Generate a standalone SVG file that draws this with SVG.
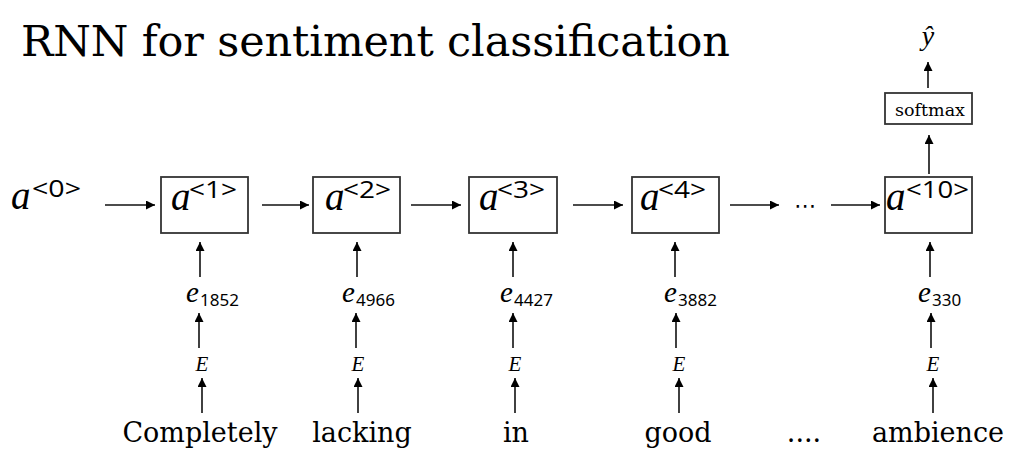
<svg xmlns="http://www.w3.org/2000/svg" width="1017" height="472" viewBox="0 0 1017 472">
<defs>
<marker id="ah" viewBox="0 0 10 10" refX="10" refY="5" markerWidth="10" markerHeight="9" markerUnits="userSpaceOnUse" orient="auto">
<path d="M0,0 L10,5 L0,10 z" fill="#000"/>
</marker>
<style>
.box{fill:#fff;stroke:#333;stroke-width:1.8}
.arr{stroke:#111;stroke-width:1.6;fill:none;marker-end:url(#ah)}
.sup{font-size:23px;fill:#000}
.sub{font-size:17px;fill:#000}
</style>
</defs>
<rect width="1017" height="472" fill="#fff"/>
<text font-family="DejaVu Serif, serif" font-size="43" x="21" y="56" textLength="709">RNN for sentiment classification</text>

<g id="a0">
<text font-family="Liberation Serif, serif" font-style="italic" font-size="39" x="11" y="209">a</text><text class="sup" font-family="Open Sans, sans-serif" x="32" y="197" textLength="49" lengthAdjust="spacingAndGlyphs">&lt;0&gt;</text>
</g>
<g id="box1">
<rect class="box" x="161" y="177" width="87" height="56"/>
<text font-family="Liberation Serif, serif" font-style="italic" font-size="39" x="171" y="210">a</text><text class="sup" font-family="Open Sans, sans-serif" x="189" y="198" textLength="48" lengthAdjust="spacingAndGlyphs">&lt;1&gt;</text>
</g>
<g id="box2">
<rect class="box" x="313" y="177" width="87" height="56"/>
<text font-family="Liberation Serif, serif" font-style="italic" font-size="39" x="325" y="210">a</text><text class="sup" font-family="Open Sans, sans-serif" x="343" y="198" textLength="48" lengthAdjust="spacingAndGlyphs">&lt;2&gt;</text>
</g>
<g id="box3">
<rect class="box" x="469" y="177" width="88" height="56"/>
<text font-family="Liberation Serif, serif" font-style="italic" font-size="39" x="479" y="210">a</text><text class="sup" font-family="Open Sans, sans-serif" x="497" y="198" textLength="48" lengthAdjust="spacingAndGlyphs">&lt;3&gt;</text>
</g>
<g id="box4">
<rect class="box" x="632" y="177" width="87" height="56"/>
<text font-family="Liberation Serif, serif" font-style="italic" font-size="39" x="640" y="210">a</text><text class="sup" font-family="Open Sans, sans-serif" x="658" y="198" textLength="48" lengthAdjust="spacingAndGlyphs">&lt;4&gt;</text>
</g>
<g id="dots">
<text x="805" y="213" text-anchor="middle" font-family="DejaVu Sans, sans-serif" font-size="22">⋯</text>
</g>
<g id="box10">
<rect class="box" x="885" y="177" width="87" height="56"/>
<text font-family="Liberation Serif, serif" font-style="italic" font-size="39" x="886" y="210">a</text><text class="sup" font-family="Open Sans, sans-serif" x="906" y="198" textLength="63" lengthAdjust="spacingAndGlyphs">&lt;10&gt;</text>
</g>
<g id="softmax">
<rect class="box" x="885" y="93" width="87" height="31"/>
<text font-family="DejaVu Serif, serif" font-size="16" x="895" y="116" textLength="70" lengthAdjust="spacingAndGlyphs">softmax</text>
</g>
<g id="yhat">
<text x="928" y="45" text-anchor="middle" font-family="Liberation Serif, serif" font-style="italic" font-size="28">ŷ</text>
</g>

<g id="e1"><text font-family="Liberation Serif, serif" font-style="italic" font-size="29" x="186" y="302">e</text><text class="sub" font-family="Noto Sans, sans-serif" x="200" y="306">1852</text></g>
<g id="e2"><text font-family="Liberation Serif, serif" font-style="italic" font-size="29" x="342" y="302">e</text><text class="sub" font-family="Noto Sans, sans-serif" x="356" y="306">4966</text></g>
<g id="e3"><text font-family="Liberation Serif, serif" font-style="italic" font-size="29" x="500" y="302">e</text><text class="sub" font-family="Noto Sans, sans-serif" x="514" y="306">4427</text></g>
<g id="e4"><text font-family="Liberation Serif, serif" font-style="italic" font-size="29" x="664" y="302">e</text><text class="sub" font-family="Noto Sans, sans-serif" x="678" y="306">3882</text></g>
<g id="e5"><text font-family="Liberation Serif, serif" font-style="italic" font-size="29" x="918" y="302">e</text><text class="sub" font-family="Noto Sans, sans-serif" x="932" y="306">330</text></g>

<g id="E1"><text font-family="Liberation Serif, serif" font-style="italic" font-size="21" x="202" y="371" text-anchor="middle">E</text></g>
<g id="E2"><text font-family="Liberation Serif, serif" font-style="italic" font-size="21" x="358" y="371" text-anchor="middle">E</text></g>
<g id="E3"><text font-family="Liberation Serif, serif" font-style="italic" font-size="21" x="515" y="371" text-anchor="middle">E</text></g>
<g id="E4"><text font-family="Liberation Serif, serif" font-style="italic" font-size="21" x="679" y="371" text-anchor="middle">E</text></g>
<g id="E5"><text font-family="Liberation Serif, serif" font-style="italic" font-size="21" x="933" y="371" text-anchor="middle">E</text></g>

<g id="w1"><text font-family="DejaVu Serif, serif" font-size="27" x="200" y="442" text-anchor="middle">Completely</text></g>
<g id="w2"><text font-family="DejaVu Serif, serif" font-size="27" x="362" y="442" text-anchor="middle">lacking</text></g>
<g id="w3"><text font-family="DejaVu Serif, serif" font-size="27" x="516" y="442" text-anchor="middle">in</text></g>
<g id="w4"><text font-family="DejaVu Serif, serif" font-size="27" x="678" y="442" text-anchor="middle">good</text></g>
<g id="w5"><text font-family="DejaVu Serif, serif" font-size="27" x="804" y="442" text-anchor="middle">....</text></g>
<g id="w6"><text font-family="DejaVu Serif, serif" font-size="27" x="938" y="442" text-anchor="middle">ambience</text></g>

<g id="connectors">
<line class="arr" x1="105" y1="205" x2="155" y2="205"/>
<line class="arr" x1="262" y1="205" x2="309" y2="205"/>
<line class="arr" x1="411" y1="205" x2="461" y2="205"/>
<line class="arr" x1="573" y1="205" x2="623" y2="205"/>
<line class="arr" x1="730" y1="205" x2="779" y2="205"/>
<line class="arr" x1="831" y1="205" x2="880" y2="205"/>

<line class="arr" x1="200" y1="277" x2="200" y2="242"/>
<line class="arr" x1="357" y1="277" x2="357" y2="242"/>
<line class="arr" x1="513" y1="277" x2="513" y2="242"/>
<line class="arr" x1="675" y1="277" x2="675" y2="242"/>
<line class="arr" x1="930" y1="277" x2="930" y2="242"/>

<line class="arr" x1="199" y1="348" x2="199" y2="313"/>
<line class="arr" x1="356" y1="348" x2="356" y2="313"/>
<line class="arr" x1="513" y1="348" x2="513" y2="313"/>
<line class="arr" x1="676" y1="348" x2="676" y2="313"/>
<line class="arr" x1="931" y1="348" x2="931" y2="313"/>

<line class="arr" x1="202" y1="413" x2="202" y2="378"/>
<line class="arr" x1="358" y1="413" x2="358" y2="378"/>
<line class="arr" x1="515" y1="413" x2="515" y2="378"/>
<line class="arr" x1="679" y1="413" x2="679" y2="378"/>
<line class="arr" x1="933" y1="413" x2="933" y2="378"/>

<line class="arr" x1="929" y1="174" x2="929" y2="135"/>
<line class="arr" x1="928" y1="88" x2="928" y2="62"/>
</g>
</svg>
